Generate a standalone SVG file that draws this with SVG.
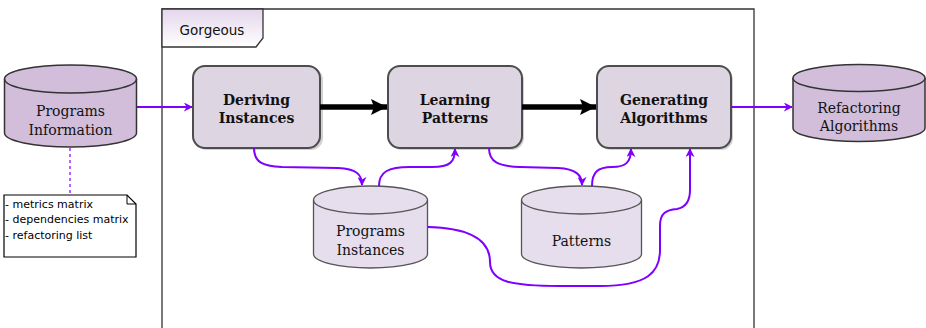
<svg xmlns="http://www.w3.org/2000/svg" width="926" height="328" viewBox="0 0 926 328">
<defs>
<linearGradient id="tabg" x1="0" y1="0" x2="0" y2="1">
<stop offset="0" stop-color="#e4d6ec"/>
<stop offset="1" stop-color="#ffffff"/>
</linearGradient>
<marker id="pa" viewBox="0 0 10 10" refX="9" refY="5" markerWidth="9" markerHeight="9" markerUnits="userSpaceOnUse" orient="auto">
<path d="M0,0 L10,5 L0,10 L3,5 z" fill="#7f00ff"/>
</marker>
<marker id="ba" viewBox="0 0 16 16" refX="16" refY="8" markerWidth="17" markerHeight="16" markerUnits="userSpaceOnUse" orient="auto">
<path d="M0,0 L16,8 L0,16 L3,8 z" fill="#000"/>
</marker>
</defs>
<style>
.frame{fill:none;stroke:#333;stroke-width:1.3}
.proc{fill:#ddd5e2;stroke:#4d4d4d;stroke-width:2}
.shadow{fill:#b3b3b3;opacity:0.6}
.cylD{fill:#d2bedb;stroke:#333;stroke-width:1.5}
.cylL{fill:#e6dded;stroke:#555;stroke-width:1.3}
.bt{font-family:"DejaVu Serif",Georgia,serif;font-weight:bold;font-size:14px;fill:#111;text-anchor:middle}
.st{font-family:"DejaVu Serif",Georgia,serif;font-size:14px;fill:#111;text-anchor:middle}
.nt{font-family:"DejaVu Sans",Verdana,sans-serif;font-size:11px;fill:#000}
.pc{fill:none;stroke:#7f00ff;stroke-width:2;marker-end:url(#pa)}
.bc{fill:none;stroke:#000;stroke-width:5.5;marker-end:url(#ba)}
</style>

<g id="frame">
<path class="frame" d="M162,330 L162,9 L754,9 L754,330"/>
<path d="M162,9 L263,9 L263,38 L256,47 L162,47 z" fill="url(#tabg)" stroke="#333" stroke-width="1.3"/>
<text x="212" y="35" font-family="DejaVu Sans, Verdana, sans-serif" font-size="13.5" text-anchor="middle" fill="#111">Gorgeous</text>
</g>

<g id="programs-information">
<path class="cylD" d="M4.5,79 L4.5,133 A66,14 0 0 0 136.5,133 L136.5,79 A66,14 0 0 0 4.5,79 z"/>
<path d="M4.5,79 A66,14 0 0 0 136.5,79" fill="none" stroke="#333" stroke-width="1.5"/>
<text class="st" x="70.5" y="116">Programs</text>
<text class="st" x="70.5" y="135">Information</text>
</g>

<g id="note">
<path d="M4,195 L127,195 L136,204 L136,257 L4,257 z" fill="#fff" stroke="#000" stroke-width="1.2"/>
<path d="M127,195 L127,204 L136,204" fill="none" stroke="#000" stroke-width="1"/>
<text class="nt" x="5" y="207.5">- metrics matrix</text>
<text class="nt" x="5" y="223">- dependencies matrix</text>
<text class="nt" x="5" y="238.5">- refactoring list</text>
</g>

<g id="deriving-instances">
<rect class="shadow" x="195" y="68" width="128" height="82" rx="12"/>
<rect class="proc" x="193" y="66" width="127" height="82" rx="12"/>
<text class="bt" x="256.5" y="104.5">Deriving</text>
<text class="bt" x="256.5" y="122.5">Instances</text>
</g>

<g id="learning-patterns">
<rect class="shadow" x="390" y="68" width="134" height="82" rx="12"/>
<rect class="proc" x="388" y="66" width="134" height="82" rx="12"/>
<text class="bt" x="455" y="104.5">Learning</text>
<text class="bt" x="455" y="122.5">Patterns</text>
</g>

<g id="generating-algorithms">
<rect class="shadow" x="599" y="68" width="134" height="82" rx="12"/>
<rect class="proc" x="597" y="66" width="134" height="82" rx="12"/>
<text class="bt" x="664" y="104.5">Generating</text>
<text class="bt" x="664" y="122.5">Algorithms</text>
</g>

<g id="refactoring-algorithms">
<path class="cylD" d="M793,78 L793,128 A66,13.5 0 0 0 925,128 L925,78 A66,13.5 0 0 0 793,78 z"/>
<path d="M793,78 A66,13.5 0 0 0 925,78" fill="none" stroke="#333" stroke-width="1.5"/>
<text class="st" x="859" y="112.5">Refactoring</text>
<text class="st" x="859" y="131">Algorithms</text>
</g>

<g id="programs-instances">
<path class="cylL" d="M313.5,200 L313.5,254 A57,14 0 0 0 427.5,254 L427.5,200 A57,14 0 0 0 313.5,200 z"/>
<path d="M313.5,200 A57,14 0 0 0 427.5,200" fill="none" stroke="#555" stroke-width="1.3"/>
<text class="st" x="370.5" y="236">Programs</text>
<text class="st" x="370.5" y="254.5">Instances</text>
</g>

<g id="patterns">
<path class="cylL" d="M521.5,200 L521.5,254 A60,14 0 0 0 641.5,254 L641.5,200 A60,14 0 0 0 521.5,200 z"/>
<path d="M521.5,200 A60,14 0 0 0 641.5,200" fill="none" stroke="#555" stroke-width="1.3"/>
<text class="st" x="581.5" y="246">Patterns</text>
</g>

<g id="connectors">
<path d="M70,148 L70,195" fill="none" stroke="#7f00ff" stroke-width="1.2" stroke-dasharray="3,3"/>
<path class="pc" d="M137,107 L192,107"/>
<path class="pc" d="M731,107 L792,107"/>
<path class="bc" d="M320,107 L387,107"/>
<path class="bc" d="M522,107 L596,107"/>
<path class="pc" d="M254,148 C254,162 262,166 282,167 L338,168 C356,169 362,174 362,185"/>
<path class="pc" d="M379,186 C379,172 388,167 410,167 L432,167 C450,167 455,162 455,149"/>
<path class="pc" d="M489,148 C489,162 498,166 520,167 L558,168 C576,169 582,175 582,185"/>
<path class="pc" d="M592,186 C592,172 598,167 612,167 C626,167 631,162 631,149"/>
<path class="pc" d="M428,227 C470,228 490,240 490,262 C490,282 512,286 560,286 L600,286 C648,286 660,272 660,250 L660,226 C660,213 666,210 677,209 C687,207 690,200 690,190 L690,149"/>
</g>
</svg>
